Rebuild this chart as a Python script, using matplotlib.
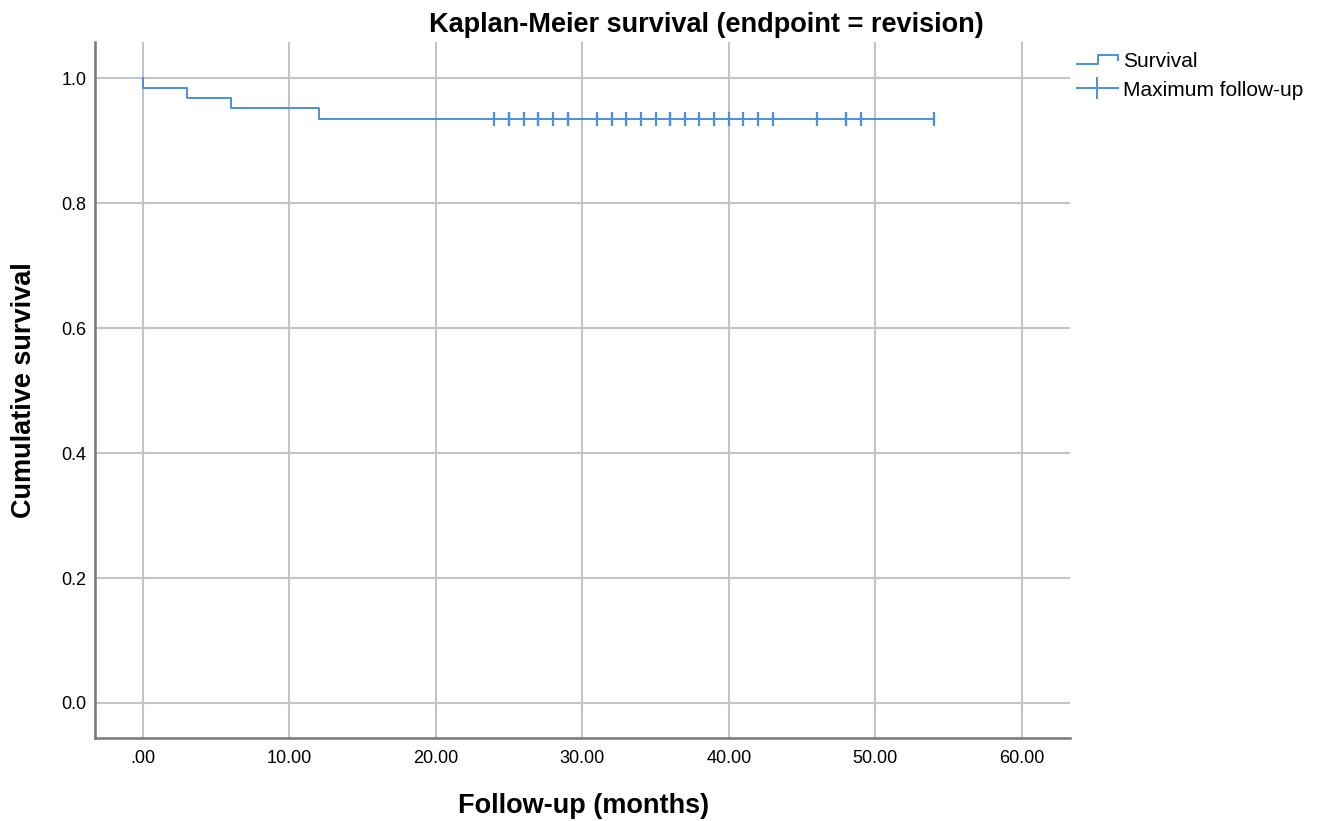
import numpy as np
import matplotlib
matplotlib.use("Agg")
import matplotlib.pyplot as plt
from matplotlib.lines import Line2D
from matplotlib.legend_handler import HandlerBase

plt.rcParams['font.family'] = ['Liberation Sans', 'DejaVu Sans']

# survival curve (step after each event time)
event_times = [0, 3, 6, 12]
surv_values = [0.984, 0.968, 0.952, 0.935]
start_surv = 1.0
end_time = 54

# censored cases (maximum follow-up), months
censor_times = [24, 25, 25, 26, 27, 27, 28, 29, 29, 31, 32, 32, 33, 34, 35,
                36, 36, 37, 38, 39, 40, 41, 42, 43, 46, 48, 48, 49, 54]

xticks = [0, 10, 20, 30, 40, 50, 60]
xtick_labels = ['.00', '10.00', '20.00', '30.00', '40.00', '50.00', '60.00']
yticks = [0.0, 0.2, 0.4, 0.6, 0.8, 1.0]

blue = '#4a8fe0'
grid_col = '#c4c4c4'
spine_col = '#777777'

# step arrays
xs = [0] + event_times + [end_time]
ys = [start_surv] + surv_values + [surv_values[-1]]


def surv_at(t):
    s = start_surv
    for et, sv in zip(event_times, surv_values):
        if t >= et:
            s = sv
    return s


censor_y = [surv_at(t) for t in censor_times]


class StepHandler(HandlerBase):
    def create_artists(self, legend, orig, xd, yd, w, h, fontsize, trans):
        px = np.array([0, 0.52, 0.52, 1.0, 1.0]) * w - xd
        py = np.array([0.2, 0.2, 0.85, 0.85, 0.5]) * h - yd
        ln = Line2D(px, py, color=blue, lw=1.4, transform=trans)
        return [ln]


fig = plt.figure(figsize=(13.28, 8.21), dpi=100)
ax = fig.add_axes([0.0715, 0.1011, 0.7342, 0.8477])

ax.step(xs, ys, where='post', color=blue, lw=1.4, zorder=3)
ax.plot(censor_times, censor_y, ls='none', marker='|', ms=10, mew=1.6,
        color=blue, zorder=4)

ax.set_xlim(-3.28, 63.3)
ax.set_ylim(-0.056, 1.0576)
ax.set_xticks(xticks)
ax.set_xticklabels(xtick_labels)
ax.set_yticks(yticks)
ax.set_yticklabels([f'{v:.1f}' for v in yticks])
ax.tick_params(length=0, labelsize=13, colors='black')
ax.tick_params(axis='x', pad=9)
ax.tick_params(axis='y', pad=6)
ax.grid(True, color=grid_col, lw=1.5)
ax.set_axisbelow(True)
for s in ['top', 'right']:
    ax.spines[s].set_visible(False)
for s in ['left', 'bottom']:
    ax.spines[s].set_color(spine_col)
    ax.spines[s].set_linewidth(1.8)

fig.text(0.4395, 0.018, 'Follow-up (months)', ha='center', va='center',
         fontsize=19.5, fontweight='bold')
fig.text(0.018, 0.525, 'Cumulative survival', ha='center', va='center',
         rotation=90, fontsize=19.5, fontweight='bold')
fig.text(0.532, 0.969, 'Kaplan-Meier survival (endpoint = revision)',
         ha='center', va='center', fontsize=19.5, fontweight='bold')

surv_handle = Line2D([], [], color=blue)
cens_handle = Line2D([0], [0], color=blue, lw=1.4, marker='|', ms=16, mew=1.4)
fig.legend([surv_handle, cens_handle], ['Survival', 'Maximum follow-up'],
           handler_map={surv_handle: StepHandler()},
           loc='upper left', bbox_to_anchor=(0.806, 0.944), frameon=False,
           fontsize=15, handlelength=2.0, handletextpad=0.25, labelspacing=0.45,
           borderpad=0.1, borderaxespad=0.2)

fig.savefig('out.png', dpi=100)
